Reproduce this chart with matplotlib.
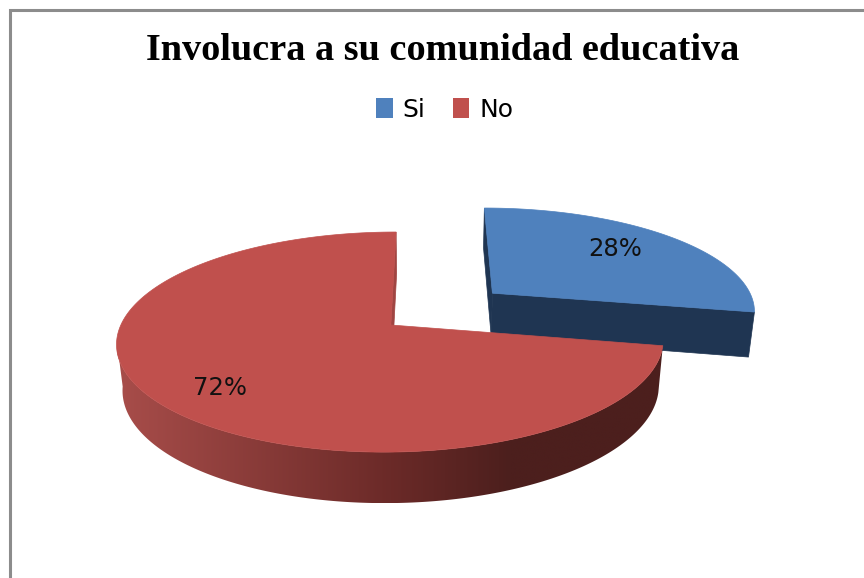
"""Involucra a su comunidad educativa: exploded 3D pie, drawn in pixel coordinates."""

import matplotlib
matplotlib.use("Agg")
import matplotlib.pyplot as plt
import numpy as np
from matplotlib.colors import LinearSegmentedColormap
from matplotlib.patches import Patch, Polygon

TITLE = "Involucra a su comunidad educativa"
LABELS = ["Si", "No"]
VALUES = [28, 72]
PCT_TEXT = ["28%", "72%"]
PCT_POS = [(615, 249), (220, 388)]
TOP_COLORS = ["#4F81BD", "#C0504D"]
SIDE_BLUE = "#1F3552"
SIDE_RED = LinearSegmentedColormap.from_list(
    "side_red", [(0, "#A84D4A"), (0.5, "#6B2A28"), (0.72, "#4C1F1D"), (1, "#4C1F1D")]
)

# camera of the fake 3D view, fitted to the picture
CX, CY = 430, 325
RX, RY = 270, 107.4
DEPTH = 46.5
K_Y, K_Z = 0.155, 0.019
EXPLODE = 0.487  # blue slice only
RED_APEX = (-0.145, 0.0)
BLUE_BASE = (-0.133, 0.0)
WALL_END = 262  # silhouette of the top face: past this the wall is out of sight


def project(x, y, z=0.0):
    w = 1 + K_Y * np.asarray(y) + K_Z * z
    return CX + RX * np.asarray(x) / w, CY + (-RY * np.asarray(y) + DEPTH * z) / w


def arc(apex, a0, a1, n=240):
    # angles in degrees, clockwise from the back of the pie
    t = np.radians(np.linspace(a0, a1, n))
    return apex[0] + np.sin(t), apex[1] + np.cos(t)


def wall_xy(xs, ys):
    x0, y0 = project(xs, ys)
    x1, y1 = project(xs, ys, 1.0)
    return np.r_[x0, x1[::-1]], np.r_[y0, y1[::-1]]


def wall(ax, xs, ys, color):
    wx, wy = wall_xy(xs, ys)
    ax.fill(wx, wy, color=color, lw=0.5)


angles = np.cumsum([0] + VALUES) / sum(VALUES) * 360
mid_blue = np.radians(angles[:2].mean())
apex_blue = (BLUE_BASE[0] + EXPLODE * np.sin(mid_blue), BLUE_BASE[1] + EXPLODE * np.cos(mid_blue))

fig = plt.figure(figsize=(8.64, 5.78), dpi=100)
ax = fig.add_axes([0, 0, 1, 1])
ax.axis("off")

# chart frame, cut off on the right and at the bottom
ax.plot([10, 10, 864], [578, 9.5, 9.5], color="#8C8C8C", lw=2.2, solid_joinstyle="miter")

# blue slice (behind): both cut faces, then the top
bx, by = arc(apex_blue, angles[0], angles[1])
for i in (0, -1):
    wall(ax, np.array([apex_blue[0], bx[i]]), np.array([apex_blue[1], by[i]]), SIDE_BLUE)
px, py = project(np.r_[apex_blue[0], bx], np.r_[apex_blue[1], by])
ax.fill(px, py, color=TOP_COLORS[0], lw=0.5)

# red slice: cut face, then the outer wall with shading running left to right
rx, ry = arc(RED_APEX, angles[1], angles[2], n=600)
wall(ax, np.array([RED_APEX[0], rx[-1]]), np.array([RED_APEX[1], ry[-1]]), "#A04542")
vx, vy = arc(RED_APEX, angles[1], WALL_END, n=400)
wx, wy = wall_xy(vx, vy)
clip = Polygon(np.c_[wx, wy], closed=True, facecolor="none", edgecolor="none")
ax.add_patch(clip)
im = ax.imshow(np.linspace(0, 1, 256)[None, :], cmap=SIDE_RED, aspect="auto",
               extent=(wx.min(), wx.max(), wy.max(), wy.min()), interpolation="bilinear")
im.set_clip_path(clip)
px, py = project(np.r_[RED_APEX[0], rx], np.r_[RED_APEX[1], ry])
ax.fill(px, py, color=TOP_COLORS[1], lw=0.5)

ax.set_xlim(0, 864)
ax.set_ylim(578, 0)

for txt, (x, y) in zip(PCT_TEXT, PCT_POS):
    ax.text(x, y, txt, ha="center", va="center", fontsize=17.5, color="#111111")

ax.text(443, 60, TITLE, ha="center", va="baseline", family="Liberation Serif",
        fontweight="bold", fontsize=27.5, color="black")

handles = [Patch(facecolor=c, label=l) for c, l in zip(TOP_COLORS, LABELS)]
ax.legend(handles=handles, ncol=2, frameon=False, loc="center", bbox_to_anchor=(445 / 864, 1 - 110 / 578),
          fontsize=18, handlelength=0.65, handleheight=0.85, handletextpad=0.41, columnspacing=1.1)

fig.savefig("out.png", dpi=100)
